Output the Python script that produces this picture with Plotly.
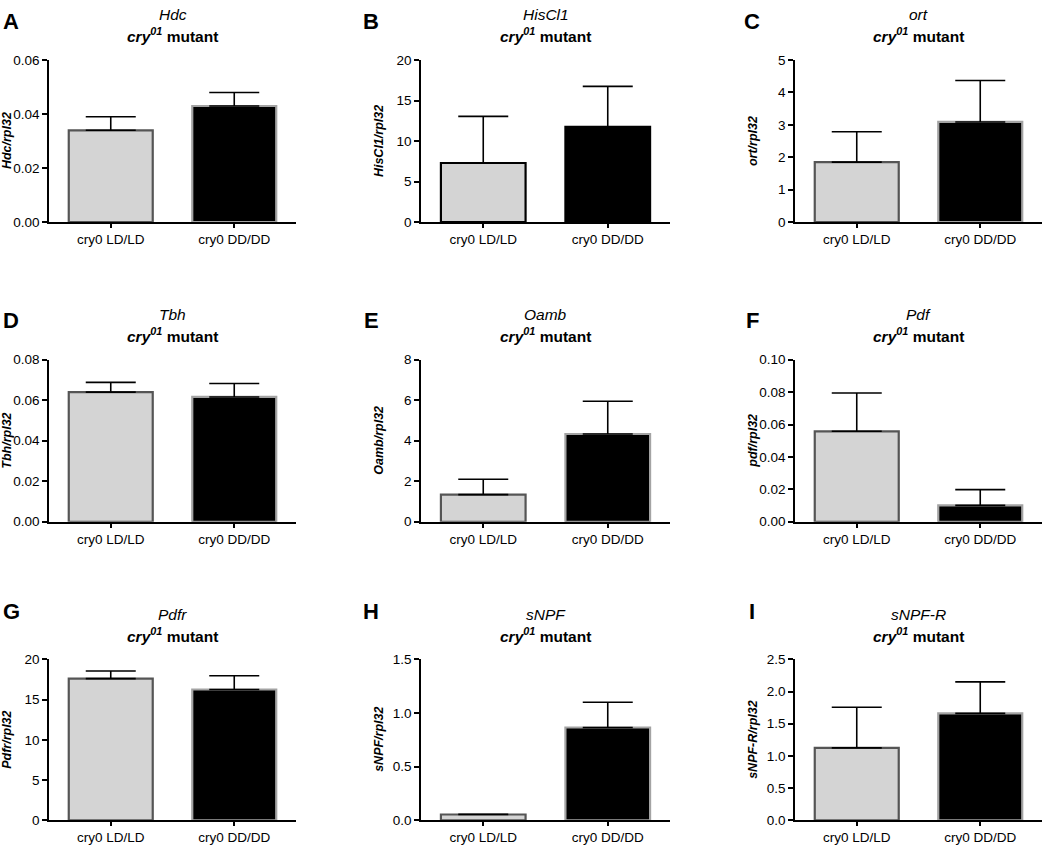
import plotly.graph_objects as go
from plotly.subplots import make_subplots

## DATA
groups = ["cry0 LD/LD", "cry0 DD/DD"]
genes = ["Hdc", "HisCl1", "ort", "Tbh", "Oamb", "Pdf", "Pdfr", "sNPF", "sNPF-R"]
panel_letters = ["A", "B", "C", "D", "E", "F", "G", "H", "I"]
y_titles = ["Hdc/rpl32", "HisCl1/rpl32", "ort/rpl32", "Tbh/rpl32", "Oamb/rpl32",
            "pdf/rpl32", "Pdfr/rpl32", "sNPF/rpl32", "sNPF-R/rpl32"]

hdc_mean = [0.034, 0.043]
hdc_err = [0.005, 0.005]
hiscl1_mean = [7.3, 11.75]
hiscl1_err = [5.75, 5.0]
ort_mean = [1.85, 3.09]
ort_err = [0.94, 1.28]
tbh_mean = [0.064, 0.0616]
tbh_err = [0.0048, 0.0066]
oamb_mean = [1.34, 4.33]
oamb_err = [0.76, 1.62]
pdf_mean = [0.0558, 0.0101]
pdf_err = [0.0236, 0.0097]
pdfr_mean = [17.6, 16.25]
pdfr_err = [0.95, 1.7]
snpf_mean = [0.055, 0.865]
snpf_err = [0.002, 0.235]
snpfr_mean = [1.125, 1.66]
snpfr_err = [0.63, 0.49]

means = [hdc_mean, hiscl1_mean, ort_mean, tbh_mean, oamb_mean, pdf_mean, pdfr_mean, snpf_mean, snpfr_mean]
errs = [hdc_err, hiscl1_err, ort_err, tbh_err, oamb_err, pdf_err, pdfr_err, snpf_err, snpfr_err]

# axis tops, tick steps, tick formats
y_top = [0.06, 20, 5, 0.08, 8, 0.10, 20, 1.5, 2.5]
y_step = [0.02, 5, 1, 0.02, 2, 0.02, 5, 0.5, 0.5]
y_fmt = [".2f", "d", "d", ".2f", "d", ".2f", "d", ".1f", ".1f"]

## LAYOUT (pixels in the 1045 x 850 window)
W, H = 1045, 850
col_px = [(49, 296), (421, 670), (795, 1042)]
row_px = [(54, 219), (359, 524), (664, 828)]
letter_x = [11, 371, 752]
letter_y = [15, 319, 615]

fill_colors = ["#d4d4d4", "#000000"]
edge_colors = ["#555555", "#a3a3a3"]
edge_colors_b = ["#000000", "#000000"]

FONT = "Liberation Sans, Arial, sans-serif"


def px_x(v):
    return v / W


def px_y(v):
    return 1 - v / H


fig = make_subplots(rows=3, cols=3)

annotations = []
for i in range(9):
    r, c = divmod(i, 3)
    edges = edge_colors_b if genes[i] == "HisCl1" else edge_colors
    fig.add_trace(go.Bar(
        x=groups, y=means[i],
        marker=dict(color=fill_colors, line=dict(color=edges, width=2.2)),
        width=0.68,
        error_y=dict(type="data", symmetric=False, array=errs[i], arrayminus=[0, 0],
                     color="black", thickness=1.6, width=25),
        showlegend=False, hoverinfo="skip",
    ), row=r + 1, col=c + 1)

    xa = "xaxis" if i == 0 else f"xaxis{i + 1}"
    ya = "yaxis" if i == 0 else f"yaxis{i + 1}"
    x0, x1 = col_px[c]
    y0, y1 = row_px[r]
    fig.layout[xa].update(
        domain=[px_x(x0), px_x(x1)], range=[-0.5, 1.5], showline=True, linecolor="black",
        linewidth=1.6, ticks="outside", ticklen=4, tickwidth=1.5, tickcolor="black",
        showgrid=False, zeroline=False,
        tickfont=dict(family=FONT, size=13.5, color="black"),
    )
    fig.layout[ya].update(
        domain=[px_y(y1), px_y(y0)], range=[0, y_top[i]], showline=True,
        linecolor="black", linewidth=1.6, ticks="outside", ticklen=5, tickwidth=1.5,
        tickcolor="black", showgrid=False, zeroline=False, dtick=y_step[i], tick0=0,
        tickformat=y_fmt[i], ticklabelstandoff=0,
        tickfont=dict(family=FONT, size=13.5, color="black"),
    )

    cx = px_x((x0 + x1) / 2)
    # title lines
    annotations.append(dict(
        x=cx, y=px_y(y0 - 46), xref="paper", yref="paper", showarrow=False,
        text=f"<i>{genes[i]}</i>", font=dict(family=FONT, size=15.5, color="black"),
        xanchor="center", yanchor="middle"))
    annotations.append(dict(
        x=cx, y=px_y(y0 - 25), xref="paper", yref="paper", showarrow=False,
        text="<b><i>cry<sup>01</sup></i> mutant</b>",
        font=dict(family=FONT, size=15.5, color="black"),
        xanchor="center", yanchor="middle"))
    # y-axis title
    annotations.append(dict(
        x=px_x(x0 - 42), y=px_y((y0 + y1) / 2), xref="paper", yref="paper",
        showarrow=False, textangle=-90, text=f"<b><i>{y_titles[i]}</i></b>",
        font=dict(family=FONT, size=12.5, color="black"),
        xanchor="center", yanchor="middle"))
    # panel letter
    annotations.append(dict(
        x=px_x(letter_x[c]), y=px_y(letter_y[r]), xref="paper", yref="paper",
        showarrow=False, text=f"<b>{panel_letters[i]}</b>",
        font=dict(family=FONT, size=22, color="black"),
        xanchor="center", yanchor="middle"))

fig.update_layout(
    width=W, height=H, margin=dict(l=0, r=0, t=0, b=0),
    plot_bgcolor="white", paper_bgcolor="white",
    annotations=annotations, hovermode=False,
)

# page body margin off so the figure fills the window exactly
fig.write_html(
    "out.html",
    config={"displayModeBar": False},
    post_script="document.body.style.margin = '0'; document.body.style.overflow = 'hidden';",
)
